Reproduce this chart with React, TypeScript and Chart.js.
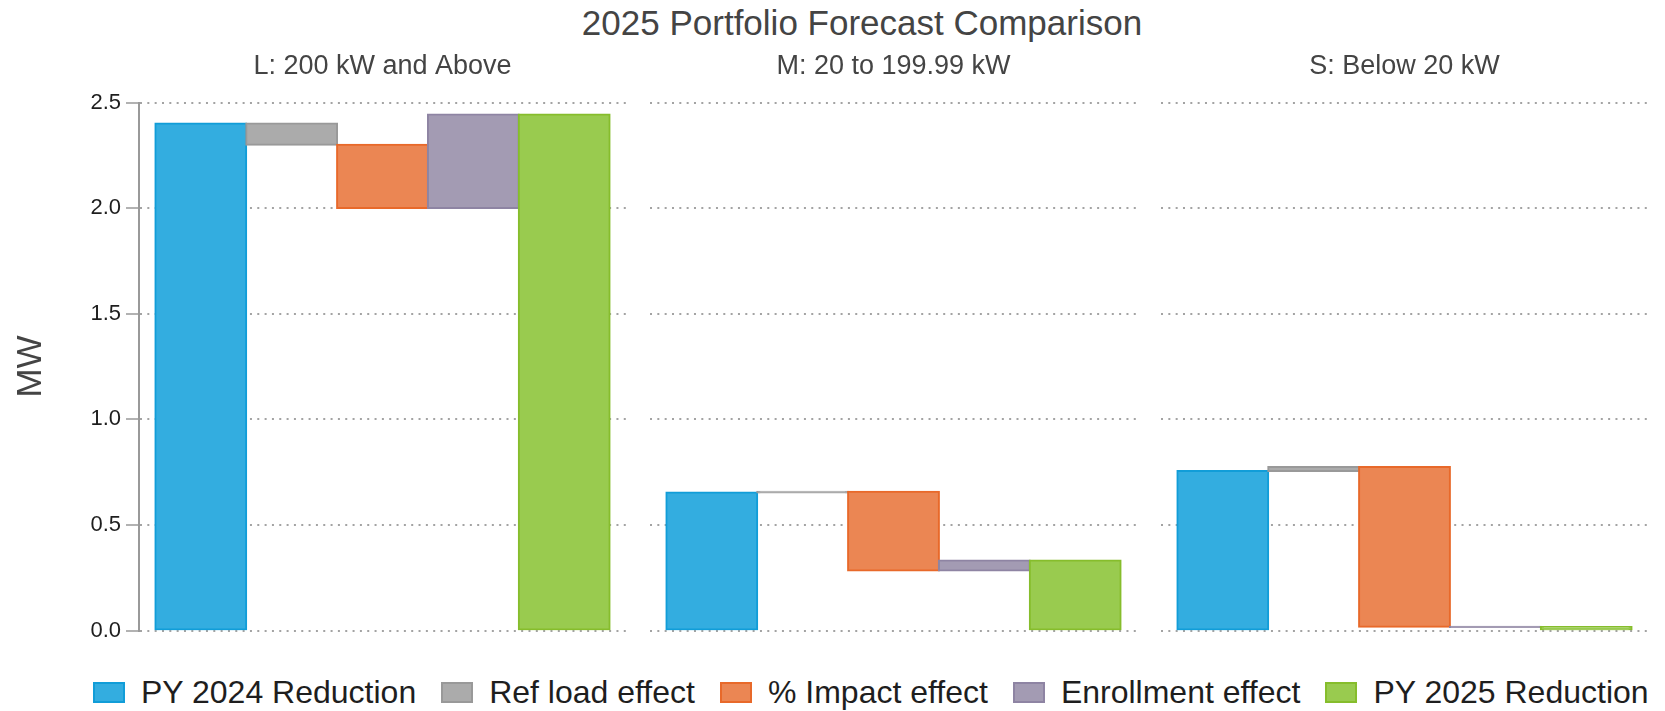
import React, { useEffect, useRef } from "react";
import { Chart, registerables } from "chart.js";

Chart.register(...registerables);

const FONT = '"Liberation Sans", Arial, Helvetica, sans-serif';

// ---------- data ----------
const chartTitle = "2025 Portfolio Forecast Comparison";
const panelTitles = ["L: 200 kW and Above", "M: 20 to 199.99 kW", "S: Below 20 kW"];
const categories = [
  "PY 2024 Reduction",
  "Ref load effect",
  "% Impact effect",
  "Enrollment effect",
  "PY 2025 Reduction",
];
const py2024Reduction = [2.4, 0.653, 0.755];
const refLoadEffect = [-0.1, 0.004, 0.019];
const impactEffect = [-0.3, -0.373, -0.756];
const enrollmentEffect = [0.443, 0.047, -0.002];
const py2025Reduction = [2.443, 0.331, 0.016];
const yTickValues = [0, 0.5, 1, 1.5, 2, 2.5];
const yTickLabels = ["0.0", "0.5", "1.0", "1.5", "2.0", "2.5"];
const yAxisTitle = "MW";

// ---------- style ----------
const fillColors = ["#33ade0", "#ababab", "#eb8653", "#a39bb3", "#99cb4f"];
const lineColors = ["#119dd8", "#999999", "#e8692a", "#8e84a3", "#86bd2c"];

const CANVAS_H = 650;
const PANELS = [
  { left: 0, width: 638, padLeft: 0, axis: true },
  { left: 638, width: 511, padLeft: 12, axis: false },
  { left: 1149, width: 511, padLeft: 12, axis: false },
];

function panelBars(i: number) {
  const start = py2024Reduction[i];
  const a = start + refLoadEffect[i];
  const b = a + impactEffect[i];
  const c = b + enrollmentEffect[i];
  const ranges = [
    [0, start],
    [start, a],
    [a, b],
    [b, c],
    [0, py2025Reduction[i]],
  ];
  return ranges.map((r, k) => ({ x: k, y: r }));
}

function makeConfig(i: number): any {
  const p = PANELS[i];
  const gridCommon = {
    color: "#a3a3a3",
    lineWidth: 2,
  };
  const yAxis: any = p.axis
    ? {
        min: 0,
        max: 2.5,
        afterFit: (s: any) => {
          s.width = 139;
        },
        afterBuildTicks: (s: any) => {
          s.ticks = yTickValues.map((v) => ({ value: v }));
        },
        ticks: {
          callback: (v: number) => yTickLabels[yTickValues.indexOf(v)],
          font: { size: 22, family: FONT },
          color: "#1e1e1e",
          padding: 5,
        },
        grid: { ...gridCommon, drawTicks: true, tickLength: 13, tickColor: "#999", tickWidth: 1.5 },
        border: { display: true, color: "#999", width: 2, dash: [2, 5.33] },
        title: {
          display: true,
          text: yAxisTitle,
          font: { size: 35, family: FONT },
          color: "#444",
          padding: { top: 10, bottom: 0 },
        },
      }
    : {
        min: 0,
        max: 2.5,
        afterFit: (s: any) => {
          s.width = 0;
        },
        afterBuildTicks: (s: any) => {
          s.ticks = yTickValues.map((v) => ({ value: v }));
        },
        ticks: { display: false },
        grid: { ...gridCommon, drawTicks: false },
        border: { display: false, dash: [2, 5.33] },
      };

  return {
    type: "bar",
    data: {
      datasets: [
        {
          data: panelBars(i),
          backgroundColor: fillColors,
          borderColor: lineColors,
          borderWidth: 2,
          borderSkipped: false,
          inflateAmount: 1,
          barPercentage: 1,
          categoryPercentage: 1,
        },
      ],
    },
    options: {
      animation: false,
      responsive: false,
      events: [],
      layout: { padding: { left: p.padLeft, right: 12, top: 0, bottom: 19.5 } },
      plugins: {
        legend: { display: false },
        tooltip: { enabled: false },
        title: {
          display: true,
          text: panelTitles[i],
          fullSize: false,
          font: { size: 27, family: FONT, weight: "normal" },
          color: "#444",
          padding: { top: 50.5, bottom: 19.6 },
        },
      },
      scales: {
        x: {
          type: "linear",
          display: false,
          min: -0.68,
          max: 4.68,
          offset: false,
          afterBuildTicks: (s: any) => {
            s.ticks = categories.map((_, k) => ({ value: k }));
          },
        },
        y: yAxis,
      },
    },
  };
}

function Panel({ index }: { index: number }) {
  const ref = useRef<HTMLCanvasElement>(null);
  useEffect(() => {
    const chart = new Chart(ref.current as HTMLCanvasElement, makeConfig(index));
    return () => chart.destroy();
  }, [index]);
  const p = PANELS[index];
  return (
    <canvas
      ref={ref}
      width={p.width}
      height={CANVAS_H}
      style={{ position: "absolute", left: p.left, top: 0, width: p.width, height: CANVAS_H, display: "block" }}
    />
  );
}

export default function App() {
  return (
    <div
      style={{
        position: "absolute",
        left: 0,
        top: 0,
        width: 1665,
        height: 711,
        background: "#fff",
        overflow: "hidden",
        fontFamily: FONT,
      }}
    >
      <div
        style={{
          position: "absolute",
          left: 862,
          top: 3,
          transform: "translateX(-50%)",
          fontSize: 35,
          lineHeight: "40px",
          color: "#444",
          whiteSpace: "nowrap",
        }}
      >
        {chartTitle}
      </div>
      {PANELS.map((_, i) => (
        <Panel key={i} index={i} />
      ))}
      <div
        style={{
          position: "absolute",
          left: 93,
          top: 673,
          display: "flex",
          alignItems: "center",
          whiteSpace: "nowrap",
          fontSize: 32,
          lineHeight: "38px",
          color: "#1e1e1e",
        }}
      >
        {categories.map((c, i) => (
          <div key={c} style={{ display: "flex", alignItems: "center", marginRight: 25 }}>
            <span
              style={{
                display: "inline-block",
                width: 28,
                height: 17,
                background: fillColors[i],
                border: `2px solid ${lineColors[i]}`,
                marginRight: 16,
              }}
            />
            <span>{c}</span>
          </div>
        ))}
      </div>
    </div>
  );
}
